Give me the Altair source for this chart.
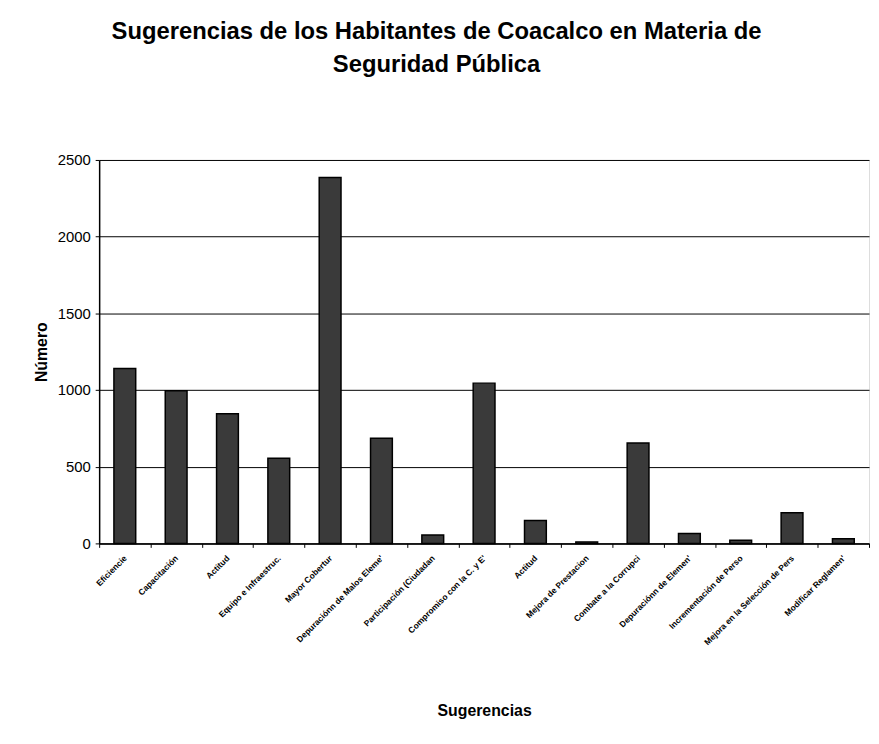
import altair as alt
import pandas as pd

categorias = [
    "Eficiencie",
    "Capacitación",
    "Actitud",
    "Equipo e Infraestruc.",
    "Mayor Cobertur",
    "Depuraciónn de Malos Eleme'",
    "Participación (Ciudadan",
    "Compromiso con la C. y E'",
    "Actitud ",
    "Mejora de Prestacion",
    "Combate a la Corrupci",
    "Depuraciónn de Elemen'",
    "Incrementación de Perso",
    "Mejora en la Selección de Pers",
    "Modificar Reglamen'",
]
valores = [1140, 995, 845, 555, 2385, 685, 55, 1045, 150, 10, 655, 65, 20, 200, 30]

df = pd.DataFrame({"Sugerencia": categorias, "Numero": valores})

FONT = "Liberation Sans, Arial"

chart = alt.Chart(df).mark_bar(
    size=22, color="#3a3a3a", stroke="black", strokeWidth=1.5
).encode(
    x=alt.X(
        "Sugerencia:N",
        sort=categorias,
        scale=alt.Scale(paddingInner=0, paddingOuter=0),
        axis=alt.Axis(
            title="Sugerencias",
            labelAngle=-45,
            labelAlign="right",
            labelBaseline="middle",
            labelFontSize=8.5,
            labelFontWeight="bold",
            labelFont="Liberation Sans",
            labelColor="black",
            labelPadding=9,
            labelLimit=300,
            tickBand="extent",
            tickSize=4,
            tickColor="black",
            domainColor="black",
            domainWidth=1.5,
            titleFontSize=16,
            titleFont=FONT,
            titleFontWeight="bold",
            titleColor="black",
            titleY=174,
            titleBaseline="alphabetic",
            labelOverlap=False,
        ),
    ),
    y=alt.Y(
        "Numero:Q",
        scale=alt.Scale(domain=[0, 2500]),
        axis=alt.Axis(
            title="Número",
            values=[0, 500, 1000, 1500, 2000, 2500],
            format="d",
            labelFontSize=15,
            labelFont=FONT,
            labelColor="black",
            labelPadding=5,
            tickSize=4,
            tickColor="black",
            domainColor="black",
            domainWidth=1.5,
            gridColor="black",
            gridWidth=1,
            gridOpacity=1,
            titleFontSize=16,
            titleFont=FONT,
            titleFontWeight="bold",
            titleColor="black",
            titleX=-53,
            titleBaseline="alphabetic",
        ),
    ),
).properties(
    width=777,
    height=387,
    title=alt.TitleParams(
        text=["Sugerencias de los Habitantes de  Coacalco en Materia de", "Seguridad Pública"],
        font=FONT,
        fontSize=24,
        fontWeight="bold",
        color="black",
        anchor="middle",
        dx=-48,
        offset=77,
        lineHeight=33,
    ),
    autosize=alt.AutoSizeParams(type="none"),
    padding={"left": 92, "top": 150, "right": 2, "bottom": 190},
).configure_view(
    fill="#cccccc", stroke="black", strokeWidth=1.5
).configure(background="white")

chart.save("out.html", embed_options={"renderer": "svg", "actions": False})
